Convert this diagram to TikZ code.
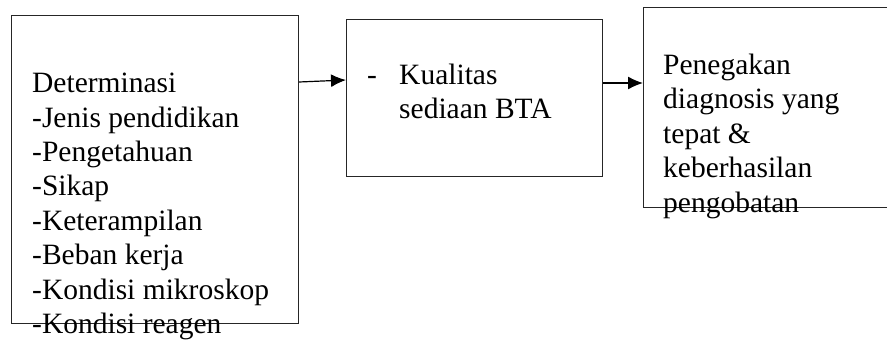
\documentclass[tikz,border=0pt]{standalone}
\usepackage{fontspec}
\setmainfont{Liberation Serif}
\usetikzlibrary{arrows.meta,positioning}

\begin{document}
\begin{tikzpicture}[x=1pt,y=-1pt,
box/.style={draw=black!85,line width=1.1pt,inner sep=0pt,anchor=north west},
label/.style={anchor=base west,align=left,inner sep=0pt,font=\fontsize{29.5}{34.4}\selectfont},
arrow/.style={-{Latex[length=15pt,width=13pt]},line width=1.2pt}
]
\useasboundingbox (0,0) rectangle (887,343);
\node[box,minimum width=287pt,minimum height=308pt] (determinasi) at (11,15) {};
\node[box,minimum width=256pt,minimum height=157pt] (kualitas) at (346,19) {};
\node[box,minimum width=246pt,minimum height=200pt] (hasil) at (643,7) {};
% base anchor = baseline of the last line
\node[label] (determinasi-text) at (32,333.5) {Determinasi\\-Jenis pendidikan\\-Pengetahuan\\-Sikap\\-Keterampilan\\-Beban kerja\\-Kondisi mikroskop\\-Kondisi reagen};
\node[label] (kualitas-dash) at (367,84) {-};
\node[label] (kualitas-text) at (399,118.5) {Kualitas\\sediaan BTA};
\node[label] (hasil-text) at (663,212) {Penegakan\\diagnosis yang\\tepat \&\\keberhasilan\\pengobatan};
\draw[arrow] ([yshift=-67pt]determinasi.north east) -- ([yshift=-61pt]kualitas.north west);
\draw[arrow] ([yshift=-64pt]kualitas.north east) -- ([yshift=-76pt]hasil.north west);
\end{tikzpicture}
\end{document}
